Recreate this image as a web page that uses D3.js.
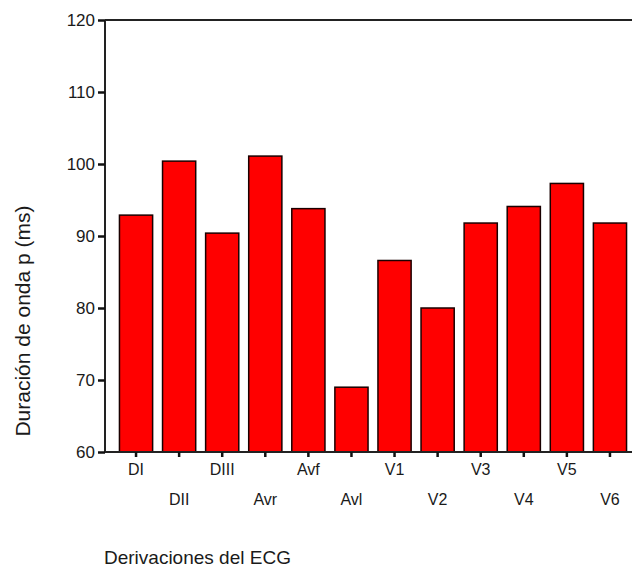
<!DOCTYPE html>
<html>
<head>
<meta charset="utf-8">
<script src="https://cdn.jsdelivr.net/npm/d3@7"></script>
<style>
  body { margin: 0; background: #fff; }
  text { font-family: "Liberation Sans", Arial, sans-serif; fill: #1a1a1a; }
</style>
</head>
<body>
<div class="chart"></div>
<script>
const leads = ["DI", "DII", "DIII", "Avr", "Avf", "Avl", "V1", "V2", "V3", "V4", "V5", "V6"];
const durations = [92.9, 100.4, 90.4, 101.1, 93.8, 69.0, 86.6, 80.0, 91.8, 94.1, 97.3, 91.8];
const yTicks = [60, 70, 80, 90, 100, 110, 120];
const yTitle = "Duración de onda p (ms)";
const xTitle = "Derivaciones del ECG";

const width = 632;
const height = 568;
const margin = {top: 20, right: 0, bottom: 116, left: 105};

const svg = d3.select(".chart")
  .append("svg")
    .attr("width", width)
    .attr("height", height);

const x = d3.scaleBand()
  .domain(leads)
  .range([114.5, 631.5])
  .paddingInner(0.23)
  .paddingOuter(0.115);

const y = d3.scaleLinear()
  .domain([60, 120])
  .range([height - margin.bottom, margin.top]);

// bars
svg.append("g")
  .selectAll("rect")
  .data(leads)
  .join("rect")
    .attr("x", d => x(d))
    .attr("y", (d, i) => y(durations[i]))
    .attr("width", x.bandwidth())
    .attr("height", (d, i) => y(60) - y(durations[i]))
    .attr("fill", "#ff0000")
    .attr("stroke", "#1a0000")
    .attr("stroke-width", 1.5);

// frame lines
const frame = svg.append("g").attr("stroke", "#222").attr("stroke-width", 2);
frame.append("line")
  .attr("x1", margin.left).attr("x2", width)
  .attr("y1", y(120)).attr("y2", y(120));
frame.append("line")
  .attr("x1", margin.left).attr("x2", width)
  .attr("y1", y(60)).attr("y2", y(60));
frame.append("line")
  .attr("x1", margin.left).attr("x2", margin.left)
  .attr("y1", y(120)).attr("y2", y(60));

// y axis
svg.append("g")
  .attr("transform", `translate(${margin.left},0)`)
  .call(d3.axisLeft(y).tickValues(yTicks).tickSize(7).tickPadding(3))
  .call(g => g.select(".domain").remove())
  .call(g => g.selectAll(".tick line").attr("stroke", "#111").attr("stroke-width", 2.5))
  .call(g => g.selectAll(".tick text")
    .attr("font-size", 17)
    .attr("font-family", "Liberation Sans, Arial, sans-serif")
    .attr("fill", "#1a1a1a"));

// x axis, labels in two rows
svg.append("g")
  .attr("transform", `translate(0,${y(60)})`)
  .call(d3.axisBottom(x).tickSize(5).tickSizeOuter(0))
  .call(g => g.select(".domain").remove())
  .call(g => g.selectAll(".tick line").attr("stroke", "#111").attr("stroke-width", 2.5))
  .call(g => g.selectAll(".tick text")
    .attr("font-size", 16)
    .attr("font-family", "Liberation Sans, Arial, sans-serif")
    .attr("fill", "#1a1a1a")
    .attr("y", (d, i) => i % 2 === 0 ? 12 : 42));

// titles
svg.append("text")
  .attr("transform", `translate(30,${(y(60) + y(120)) / 2 + 85}) rotate(-90)`)
  .attr("text-anchor", "middle")
  .attr("font-size", 21)
  .text(yTitle);

svg.append("text")
  .attr("x", 104)
  .attr("y", 564)
  .attr("font-size", 19)
  .text(xTitle);
</script>
</body>
</html>
